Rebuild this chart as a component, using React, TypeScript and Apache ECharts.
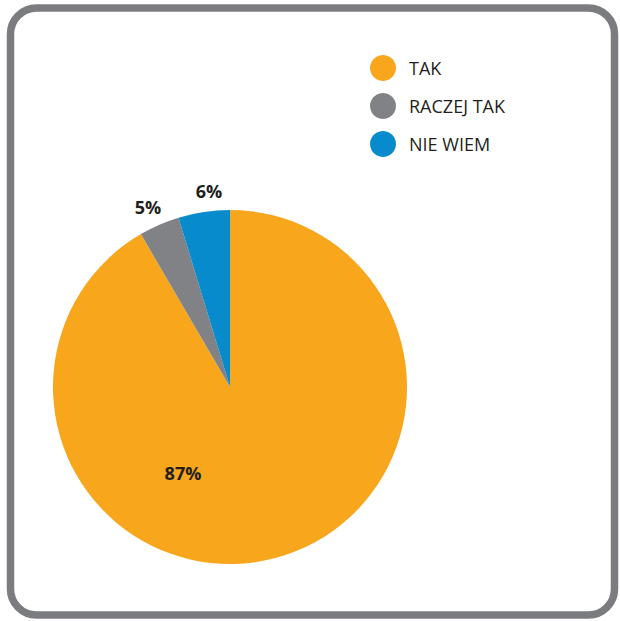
import React, { useEffect, useRef } from "react";
import * as echarts from "echarts";

const categories = ["TAK", "RACZEJ TAK", "NIE WIEM"];
// slice sizes as drawn (angles)
const sliceValues = [91.6, 3.7, 4.7];
// percentages printed on the chart
const labelTexts = ["87%", "5%", "6%"];
const colors = ["#F8A61C", "#808285", "#078BCD"];
const labelPositions = [
  [183, 473],
  [148, 207],
  [209, 191],
];

export default function App() {
  const ref = useRef<HTMLDivElement>(null);
  useEffect(() => {
    if (!ref.current) return;
    const chart = echarts.init(ref.current, undefined, { renderer: "svg" });
    chart.setOption({
      animation: false,
      backgroundColor: "#ffffff",
      legend: {
        orient: "vertical",
        left: 365,
        top: 50,
        icon: "circle",
        itemWidth: 26,
        itemHeight: 26,
        itemGap: 12,
        selectedMode: false,
        data: categories,
        textStyle: {
          fontFamily: "Open Sans",
          fontSize: 18,
          color: "#231F20",
          padding: [0, 0, 0, 8],
        },
      },
      graphic: [
        {
          type: "rect",
          shape: { x: 10.5, y: 8, width: 604, height: 607, r: 26 },
          style: { fill: "none", stroke: "#7B7C7F", lineWidth: 7.5 },
          silent: true,
        },
        ...labelTexts.map((t, i) => ({
          type: "text",
          x: labelPositions[i][0],
          y: labelPositions[i][1],
          style: {
            text: t,
            fontFamily: "Open Sans",
            fontWeight: "bold",
            fontSize: 18,
            fill: "#231F20",
            align: "center",
            verticalAlign: "middle",
          },
          z: 100,
        })),
      ],
      series: [
        {
          type: "pie",
          center: [230, 387],
          radius: 177,
          startAngle: 90,
          clockwise: true,
          label: { show: false },
          labelLine: { show: false },
          emphasis: { disabled: true },
          itemStyle: { borderWidth: 0 },
          data: categories.map((c, i) => ({
            name: c,
            value: sliceValues[i],
            itemStyle: { color: colors[i] },
          })),
        },
      ],
    });
    return () => chart.dispose();
  }, []);
  return (
    <div
      ref={ref}
      style={{ position: "fixed", left: 0, top: 0, width: 620, height: 621 }}
    />
  );
}
